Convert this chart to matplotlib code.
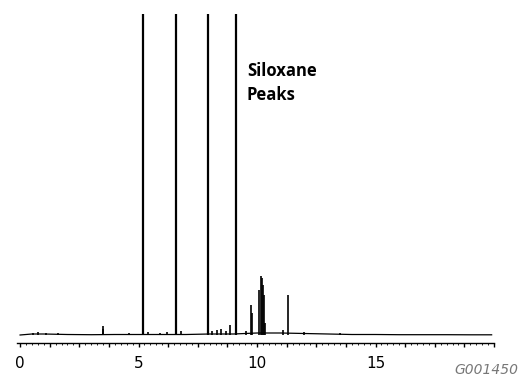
"""Chromatogram with siloxane peaks."""
import matplotlib
matplotlib.use("Agg")
import matplotlib.pyplot as plt
import numpy as np

# retention time (min) and peak height (arbitrary units above baseline)
BIG_PEAK_TIMES = [5.18, 6.58, 7.92, 9.12]
BIG_PEAK_HEIGHTS = [1000, 1000, 1000, 1000]

SMALL_PEAK_TIMES = [0.55, 0.75, 1.1, 1.6, 2.4, 3.48, 3.52, 4.6, 5.4, 5.9, 6.2, 6.8,
                    8.1, 8.3, 8.5, 8.7, 8.85, 9.55, 9.75, 9.8,
                    10.1, 10.15, 10.2, 10.25, 10.3, 10.35, 11.1, 11.3, 12.0, 13.5]
SMALL_PEAK_HEIGHTS = [2, 3, 2, 2, 1.5, 9, 6, 2, 3, 2, 3, 4,
                      4, 5, 6, 4, 10, 4, 30, 22,
                      45, 59, 57, 50, 40, 12, 5, 40, 3, 2]

BASELINE_TIMES = [0.0, 0.5, 1.0, 2.0, 3.0, 4.0, 5.0, 6.0, 7.0, 8.0, 9.0, 10.0,
                  11.0, 12.0, 13.0, 14.0, 15.0, 16.0, 17.0, 18.0, 19.0, 19.9]
BASELINE_LEVEL = [0, 1, 1, 0.5, 0.3, 0.5, 0.5, 0.5, 0.5, 1, 1, 2,
                  2, 1.5, 1, 0.5, 0.5, 0.3, 0.3, 0.3, 0.2, 0.2]

TICK_POS = np.arange(0, 20.01, 1.25)
TICK_LABELS = ["0", "", "", "", "5", "", "", "", "10", "", "", "", "15",
               "", "", "", ""]

fig = plt.figure(figsize=(5.2, 3.81), dpi=100)
ax = fig.add_axes([17 / 520, 1 - 343 / 381, 477 / 520, 329 / 381])

ax.plot(BASELINE_TIMES, BASELINE_LEVEL, color="black", linewidth=0.9)
ax.vlines(SMALL_PEAK_TIMES, 0, SMALL_PEAK_HEIGHTS, color="black", linewidth=1.2)
ax.vlines(BIG_PEAK_TIMES, 0, BIG_PEAK_HEIGHTS, color="black", linewidth=1.6)

ax.set_xlim(-0.13, 19.95)
ax.set_ylim(-8, 321)

for side in ("left", "right", "top"):
    ax.spines[side].set_visible(False)
ax.spines["bottom"].set_linewidth(1.0)
ax.set_yticks([])

ax.set_xticks(TICK_POS)
ax.set_xticklabels(TICK_LABELS)
ax.set_xticks(np.arange(0, 20.01, 0.25), minor=True)
ax.tick_params(axis="x", which="major", direction="out", length=3, width=1,
               labelsize=11, pad=6)
ax.tick_params(axis="x", which="minor", direction="out", length=1.2, width=0.6)

fig.text(247 / 520, 1 - 83 / 381, "Siloxane\nPeaks", fontsize=12,
         fontweight="bold", family="Open Sans", va="center", ha="left",
         linespacing=1.45)
fig.text(518 / 520, 1 - 370 / 381, "G001450", fontsize=10, style="italic",
         color="#777777", ha="right", va="center")

fig.savefig("out.png", dpi=100)
